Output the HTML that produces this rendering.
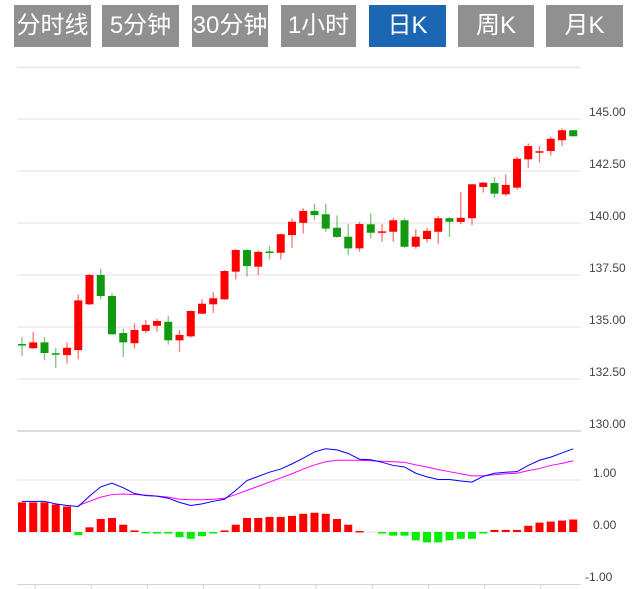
<!DOCTYPE html>
<html><head><meta charset="utf-8"><style>
body{margin:0;background:#fff;width:636px;height:589px;overflow:hidden;font-family:"Liberation Sans","Noto Sans CJK SC",sans-serif}
.btn{position:absolute;top:5px;height:42px;background:#909090;color:#fff;font-size:24px;line-height:42px;text-align:center;white-space:nowrap;overflow:hidden}
.btn.on{background:#1c67b4}
svg{position:absolute;left:0;top:0}
</style></head><body>
<div class="btn" style="left:14px;width:77px">分时线</div>
<div class="btn" style="left:102px;width:77px">5分钟</div>
<div class="btn" style="left:192px;width:76px">30分钟</div>
<div class="btn" style="left:281px;width:75px">1小时</div>
<div class="btn on" style="left:369px;width:77px">日K</div>
<div class="btn" style="left:458px;width:76px">周K</div>
<div class="btn" style="left:546px;width:77px">月K</div>
<svg id="chart" width="636" height="589" style="top:0"></svg>
<script>
const opens =[134.18,133.98,134.26,133.74,133.65,133.89,136.09,137.50,136.49,134.71,134.22,134.81,135.06,135.25,134.36,134.55,135.64,136.09,136.33,137.66,138.70,137.90,138.63,138.57,139.42,140.01,140.58,140.42,139.77,139.34,138.78,139.94,139.56,139.58,140.13,138.86,139.23,139.58,140.23,140.05,140.23,141.73,141.92,141.38,141.70,143.06,143.41,143.46,143.98,144.46];
const highs =[134.52,134.76,134.52,134.00,134.26,136.57,137.56,137.80,136.63,134.92,135.18,135.34,135.40,135.53,134.86,135.79,136.33,136.68,137.73,138.75,138.75,138.69,138.89,139.49,140.21,140.71,140.93,140.93,140.37,139.94,140.06,140.47,139.94,140.23,140.23,139.70,139.77,140.34,140.29,141.49,141.89,141.97,142.21,142.34,143.19,143.83,143.70,144.15,144.55,144.47];
const lows  =[133.61,133.95,133.40,133.04,133.24,133.45,136.05,136.33,134.62,133.56,133.96,134.71,134.77,134.15,133.81,134.49,135.62,135.67,136.31,137.29,137.42,137.50,138.25,138.25,138.81,139.50,140.13,139.58,139.29,138.46,138.62,139.26,139.10,139.10,138.81,138.76,139.05,139.00,139.33,139.94,139.89,141.46,141.19,141.30,141.62,142.66,142.90,143.25,143.70,144.17];
const closes=[134.13,134.26,133.75,133.70,134.00,136.28,137.50,136.49,134.65,134.26,134.86,135.10,135.29,134.36,134.62,135.77,136.12,136.38,137.69,138.70,137.93,138.61,138.59,139.46,140.06,140.58,140.38,139.73,139.33,138.78,139.95,139.53,139.60,140.13,138.86,139.34,139.62,140.23,140.06,140.25,141.86,141.94,141.41,141.83,143.09,143.70,143.45,144.05,144.46,144.17];
const macdHist=[0.57,0.57,0.57,0.53,0.49,-0.06,0.09,0.25,0.27,0.14,0.03,-0.02,-0.03,-0.03,-0.10,-0.13,-0.08,-0.02,0.03,0.14,0.27,0.27,0.29,0.29,0.31,0.35,0.37,0.35,0.25,0.14,0.02,0,-0.03,-0.07,-0.07,-0.16,-0.20,-0.20,-0.16,-0.13,-0.13,-0.01,0.04,0.04,0.04,0.12,0.18,0.20,0.22,0.24];
const difLine=[0.59,0.59,0.59,0.54,0.51,0.49,0.69,0.87,0.94,0.85,0.74,0.70,0.69,0.65,0.57,0.51,0.54,0.59,0.63,0.80,0.99,1.07,1.15,1.21,1.31,1.42,1.54,1.60,1.58,1.51,1.40,1.39,1.34,1.28,1.25,1.13,1.06,1.01,1.01,0.98,0.96,1.07,1.13,1.15,1.16,1.28,1.38,1.44,1.52,1.60];
const deaLine=[null,null,null,null,null,0.51,0.59,0.67,0.72,0.73,0.72,0.71,0.69,0.67,0.63,0.62,0.62,0.63,0.65,0.72,0.80,0.88,0.96,1.04,1.12,1.21,1.29,1.35,1.38,1.38,1.38,1.37,1.36,1.35,1.34,1.29,1.25,1.20,1.16,1.12,1.08,1.08,1.10,1.12,1.13,1.18,1.22,1.28,1.32,1.37];
const priceTicks=["145.00","142.50","140.00","137.50","135.00","132.50","130.00"];
const priceTickVals=[145,142.5,140,137.5,135,132.5,130];
const macdTicks=["1.00","0.00","-1.00"];
const macdTickVals=[1,0,-1];

const NS='http://www.w3.org/2000/svg';
const svg=document.getElementById('chart');
function el(t,a){const e=document.createElementNS(NS,t);for(const k in a)e.setAttribute(k,a[k]);svg.appendChild(e);return e;}
const xOf=i=>22+i*11.25;
const yP=p=>119+(145-p)*20.8;
const yM=v=>532-v*52;
const RED='#ff0000',GREEN='#119911';

let g=el('line',{x1:17,x2:581,y1:67.5,y2:67.5,stroke:'#e6e6e6','stroke-width':1.5});


priceTickVals.forEach((v,i)=>{
  const y=yP(v);
  const ln=el('line',{x1:17,x2:581,y1:y,y2:y,stroke:v===130?'#dcdcdc':'#e0e0e0','stroke-width':v===130?2:1});
  
  
  const t=el('text',{x:589,y:y-3,'font-size':12,fill:'#444','font-family':'Liberation Sans'});
  t.textContent=priceTicks[i];
  
  
});
macdTickVals.forEach((v,i)=>{
  const y=yM(v);
  if(v!==-1){const ln=el('line',{x1:17,x2:581,y1:y,y2:y,stroke:'#e0e0e0','stroke-width':1});
  
  }
  const t=el('text',{x:v<0?585:593,y:y-3,'font-size':12,fill:'#444','font-family':'Liberation Sans'});
  t.textContent=macdTicks[i];
  
  
});
const ax=el('line',{x1:17,x2:581,y1:584.5,y2:584.5,stroke:'#ccd6eb'});


for(let k=0;k<10;k++){const x=35+k*56.2;const tk=el('line',{x1:x,x2:x,y1:584,y2:590,stroke:'#ccd6eb'});

}

opens.forEach((o,i)=>{
  const c=closes[i],up=c>=o,col=up?RED:GREEN,x=xOf(i);
  const w=el('line',{x1:x,x2:x,y1:yP(highs[i]),y2:yP(lows[i]),stroke:col,'stroke-opacity':0.55,'stroke-width':1.3});
  
  
  const top=yP(Math.max(o,c)),bot=yP(Math.min(o,c));
  const b=el('rect',{x:x-4,y:top,width:8,height:Math.max(1.5,bot-top),fill:col});
  
  
});
macdHist.forEach((v,i)=>{
  if(v===0)return;
  const x=xOf(i),y0=yM(0),y1=yM(v);
  const r=el('rect',{x:x-4,y:Math.min(y0,y1),width:8,height:Math.max(1.5,Math.abs(y1-y0)),fill:v>0?'#ff0000':'#00ee00'});
  
  
});
function line(arr,col,name){
  let d='';arr.forEach((v,i)=>{if(v===null)return;d+=(d?'L':'M')+xOf(i)+' '+yM(v);});
  const p=el('path',{d:d,fill:'none',stroke:col,'stroke-width':1});
  
  
}
line(deaLine,'#ff00ff','dea-line');
line(difLine,'#0000ff','dif-line');
</script>
</body></html>
